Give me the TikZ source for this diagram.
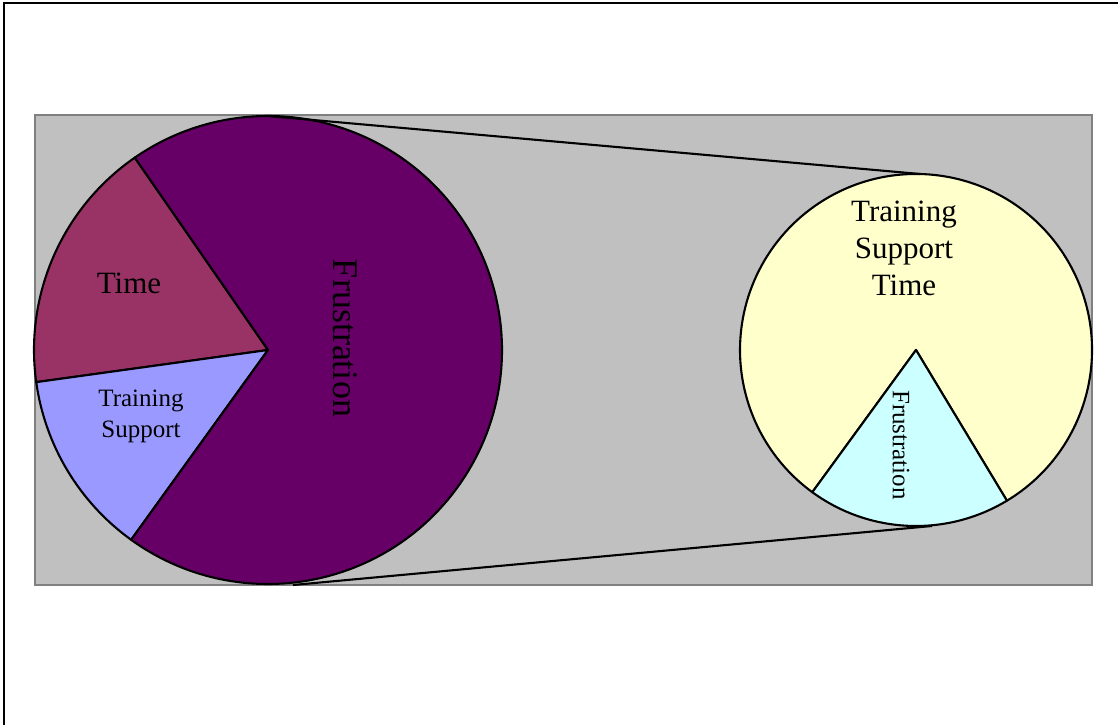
\documentclass[tikz,border=0pt]{standalone}
\usepackage{fontspec}
\setmainfont{Liberation Serif}
\definecolor{panelgray}{HTML}{C0C0C0}
\definecolor{paneledge}{HTML}{808080}
\definecolor{timecol}{HTML}{993366}
\definecolor{supportcol}{HTML}{9999FF}
\definecolor{frustcol}{HTML}{660066}
\definecolor{restcol}{HTML}{FFFFCC}
\definecolor{frustsmall}{HTML}{CCFFFF}
\tikzset{
  slice/.style={draw=black, line width=2.1pt, line join=round},
  link/.style={draw=black, line width=2.1pt},
  label/.style={inner sep=0pt, text=black, align=center},
}
\begin{document}
\begin{tikzpicture}[x=1pt, y=1pt]
\useasboundingbox (0,0) rectangle (1118,725);
% page frame (left and top edges)
\draw[line width=2.6pt] (4,0) -- (4,722) -- (1118,722);
% gray panel
\draw[fill=panelgray, draw=paneledge, line width=2.6pt] (35,140) rectangle (1092,610);

% main pie
\coordinate (bigc) at (268,375);
\def\R{234}
\filldraw[slice, fill=timecol] (bigc) -- ++(124.7:\R) arc (124.7:187.9:\R) -- cycle;
\filldraw[slice, fill=supportcol] (bigc) -- ++(187.9:\R) arc (187.9:234.2:\R) -- cycle;
\filldraw[slice, fill=frustcol] (bigc) -- ++(234.2:\R) arc (234.2:484.7:\R) -- cycle;

% breakout pie
\coordinate (smallc) at (916,375);
\def\r{176}
\filldraw[slice, fill=restcol] (smallc) -- ++(301.1:\r) arc (301.1:593.9:\r) -- cycle;
\filldraw[slice, fill=frustsmall] (smallc) -- ++(233.9:\r) arc (233.9:301.1:\r) -- cycle;

% connector lines between the pies
\coordinate (bigtop) at (268,609);
\coordinate (bigbot) at (293,140);
\coordinate (smalltop) at (920,551);
\coordinate (smallbot) at (932,199);
\draw[link] (bigtop) -- (smalltop);
\draw[link] (bigbot) -- (smallbot);

% labels
\node[label, font=\fontsize{31}{37}\selectfont] (ltime) at (129,442) {Time};
\node[label, font=\fontsize{25}{31}\selectfont] (lsupport) at (141,309) {Training\\Support};
\node[label, font=\fontsize{36}{40}\selectfont, rotate=-90] (lfrust) at (345,387) {Frustration};
\node[label, font=\fontsize{31}{37}\selectfont] (lrest) at (904,477) {Training\\Support\\Time};
\node[label, font=\fontsize{25}{30}\selectfont, rotate=-90] (lfrustsmall) at (901,280) {Frustration};
\end{tikzpicture}
\end{document}
